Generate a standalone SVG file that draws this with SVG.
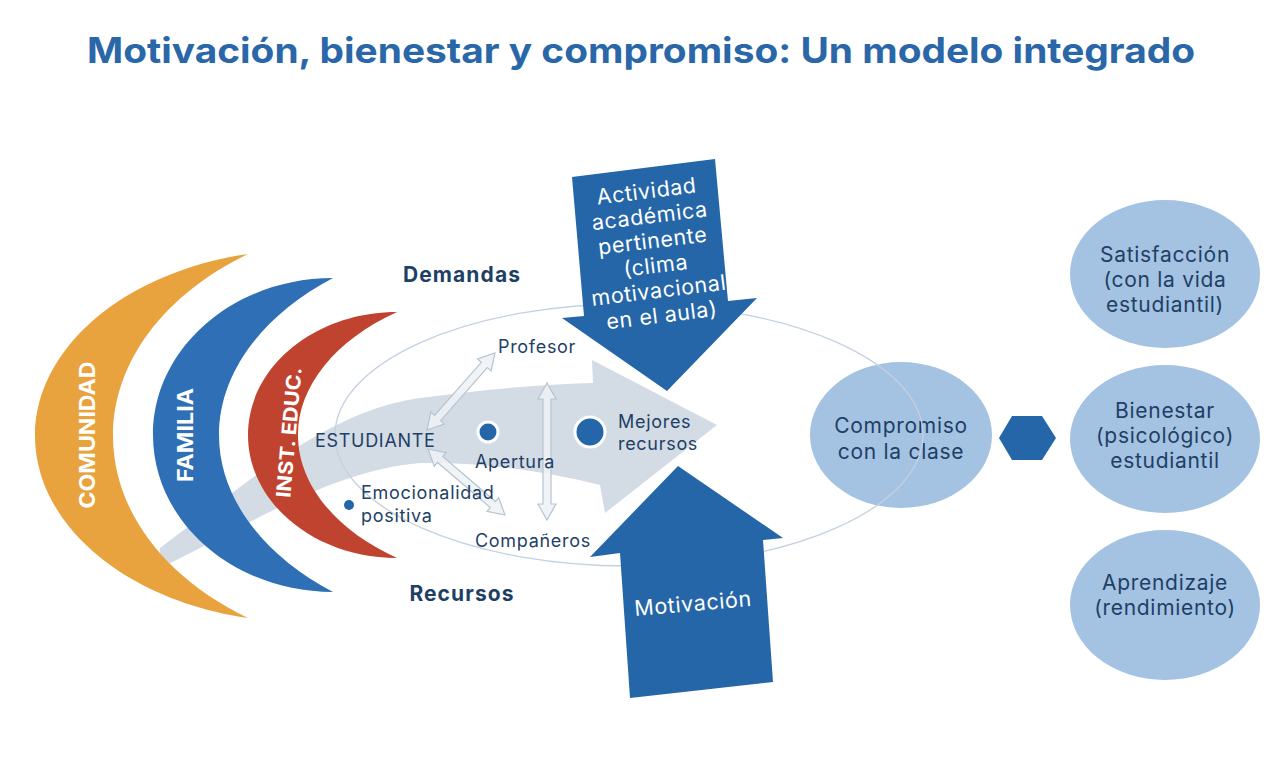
<svg xmlns="http://www.w3.org/2000/svg" width="1280" height="773" viewBox="0 0 1280 773">
<defs>
<style>
text{font-family:Inter,"Open Sans","DejaVu Sans",sans-serif;}
.title{font-size:35px;font-weight:700;fill:#2a67a8;}
.lbl{font-size:18px;fill:#1e3f66;letter-spacing:0.7px;}
.bold{font-size:21px;font-weight:700;fill:#1e3f66;letter-spacing:1.1px;}
.circ{fill:#a4c2e1;}
.ctext{font-size:21px;fill:#1e3f66;text-anchor:middle;letter-spacing:0.7px;}
.wtext{font-size:21.5px;fill:#ffffff;text-anchor:middle;letter-spacing:0.6px;}
.ring{font-size:21px;font-weight:700;fill:#ffffff;text-anchor:middle;}
.dark{fill:#2566a8;}
.darr{fill:#eef2f6;fill-opacity:0.85;stroke:#b7c3d1;stroke-width:1.2;}
</style>
</defs>
<rect width="1280" height="773" fill="#ffffff"/>
<text class="title" x="641" y="63" text-anchor="middle" textLength="1108" lengthAdjust="spacingAndGlyphs">Motivación, bienestar y compromiso: Un modelo integrado</text>

<g id="flow-band">
<path d="M160,548 C 250,480 330,410 420,398 C 500,387 560,384 593,383 L592,360 L717,425 L605,513 L600,485 C 540,470 480,462 420,463 C 330,470 240,530 160,568 Z" fill="#d3dbe4"/>
</g>

<g id="comunidad">
<path d="M248,254 C124.3,271.9 35,348.2 35,436 C35,523.8 124.3,600.1 248,618 C163.1,577.1 113,509.1 113,436 C113,362.9 163.1,294.9 248,254 Z" fill="#e8a33e"/>
<text class="ring" transform="translate(95,435) rotate(-90)" textLength="147" lengthAdjust="spacingAndGlyphs">COMUNIDAD</text>
</g>
<g id="familia">
<path d="M333,278 C233.6,278 153,348.3 153,435 C153,521.7 233.6,592 333,592 C261,554.1 219,496.2 219,435 C219,373.8 261,315.9 333,278 Z" fill="#2f6fb5"/>
<text class="ring" transform="translate(193,435) rotate(-90)" textLength="94" lengthAdjust="spacingAndGlyphs">FAMILIA</text>
</g>
<g id="inst-educ">
<path d="M397,312 C314.7,312 248,367.1 248,435 C248,502.9 314.7,558 397,558 C335.3,529.9 298,484 298,435 C298,386 335.3,340.1 397,312 Z" fill="#c0432f"/>
<text class="ring" style="font-size:20px" transform="translate(296,433) rotate(-85)" textLength="131" lengthAdjust="spacingAndGlyphs">INST. EDUC.</text>
</g>

<g id="demandas"><text class="bold" x="462" y="282" text-anchor="middle">Demandas</text></g>
<g id="recursos"><text class="bold" x="462" y="601" text-anchor="middle">Recursos</text></g>

<g id="compromiso">
<ellipse class="circ" cx="901" cy="435" rx="91" ry="73"/>
<text class="ctext" x="901" y="433">Compromiso</text>
<text class="ctext" x="901" y="459">con la clase</text>
</g>

<g id="context-ellipse">
<ellipse cx="629" cy="435" rx="294" ry="131" fill="none" stroke="#c3d1e2" stroke-width="1.3"/>
</g>

<g id="connectors">
<path class="darr" transform="translate(427,430) rotate(-48.6)" d="M0,0 L16,-9 L16,-4 L86.7,-4 L86.7,-9 L102.7,0 L86.7,9 L86.7,4 L16,4 L16,9 Z"/>
<path class="darr" transform="translate(428,449) rotate(40.6)" d="M0,0 L16,-9 L16,-4 L85.4,-4 L85.4,-9 L101.4,0 L85.4,9 L85.4,4 L16,4 L16,9 Z"/>
<path class="darr" transform="translate(547,383) rotate(90)" d="M0,0 L16,-9 L16,-4 L121,-4 L121,-9 L137,0 L121,9 L121,4 L16,4 L16,9 Z"/>
</g>

<g id="estudiante"><text class="lbl" x="315" y="447">ESTUDIANTE</text></g>
<g id="profesor"><text class="lbl" x="498" y="353">Profesor</text></g>
<g id="companeros"><text class="lbl" x="475" y="547">Compañeros</text></g>
<g id="apertura">
<circle cx="488" cy="432" r="10" class="dark" stroke="#ffffff" stroke-width="3"/>
<text class="lbl" x="515" y="468" text-anchor="middle">Apertura</text>
</g>
<g id="mejores-recursos">
<circle cx="590" cy="432" r="15" class="dark" stroke="#ffffff" stroke-width="3"/>
<text class="lbl" x="618" y="428">Mejores</text>
<text class="lbl" x="618" y="450">recursos</text>
</g>
<g id="emocionalidad">
<circle cx="349" cy="505" r="5" class="dark"/>
<text class="lbl" x="361" y="499">Emocionalidad</text>
<text class="lbl" x="361" y="522">positiva</text>
</g>

<g id="actividad">
<polygon class="dark" points="572,177 715,159 728,301 757,298 667,391 562,318 584,316"/>
<g transform="rotate(-7 655 260)">
<text class="wtext" x="655" y="198">Actividad</text>
<text class="wtext" x="655" y="223">académica</text>
<text class="wtext" x="655" y="248">pertinente</text>
<text class="wtext" x="655" y="273">(clima</text>
<text class="wtext" x="655" y="298">motivacional</text>
<text class="wtext" x="655" y="323">en el aula)</text>
</g>
</g>

<g id="motivacion">
<polygon class="dark" points="678,466 783,538 763,540 773,682 630,698 620,553 590,557"/>
<text class="wtext" transform="rotate(-5 693 604)" x="693" y="611">Motivación</text>
</g>

<g id="hexagon">
<polygon class="dark" points="999,438 1012,416 1042,416 1056,438 1042,460 1012,460"/>
</g>

<g id="satisfaccion">
<ellipse class="circ" cx="1165" cy="274" rx="95" ry="74"/>
<text class="ctext" x="1165" y="262">Satisfacción</text>
<text class="ctext" x="1165" y="287">(con la vida</text>
<text class="ctext" x="1165" y="312">estudiantil)</text>
</g>
<g id="bienestar">
<ellipse class="circ" cx="1165" cy="439" rx="95" ry="74"/>
<text class="ctext" x="1165" y="418">Bienestar</text>
<text class="ctext" x="1165" y="443">(psicológico)</text>
<text class="ctext" x="1165" y="468">estudiantil</text>
</g>
<g id="aprendizaje">
<ellipse class="circ" cx="1165" cy="605" rx="95" ry="75"/>
<text class="ctext" x="1165" y="590">Aprendizaje</text>
<text class="ctext" x="1165" y="615">(rendimiento)</text>
</g>
</svg>
